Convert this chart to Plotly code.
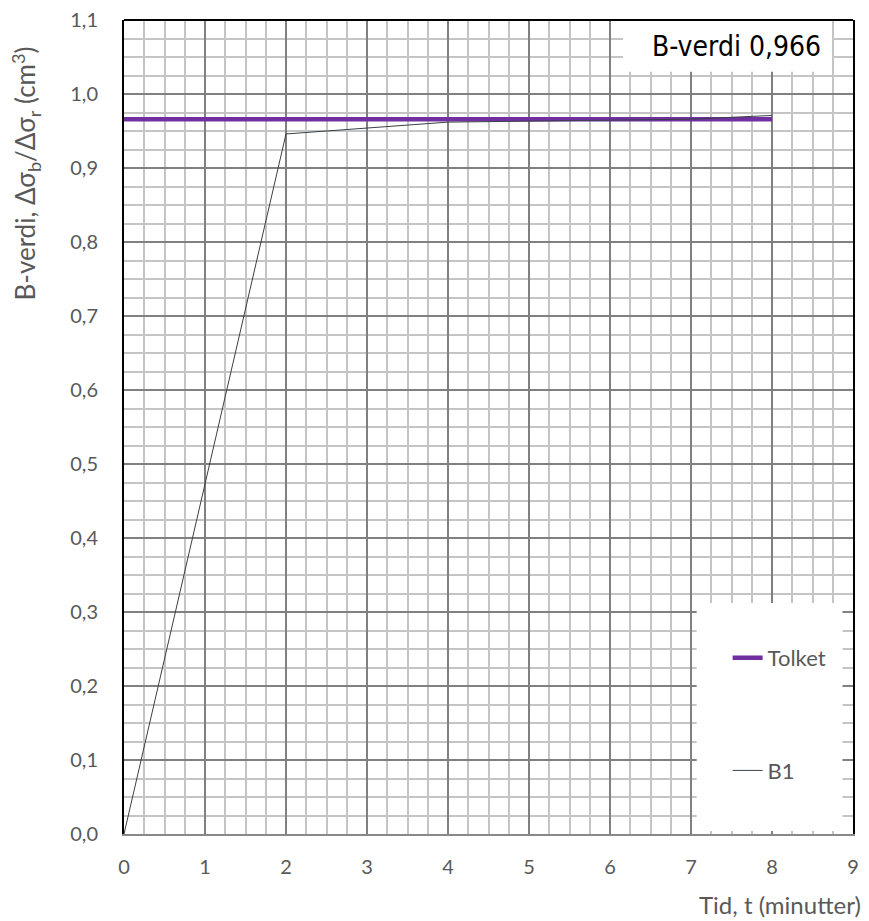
import plotly.graph_objects as go

# Data
tid_b1 = [0, 2, 4, 6, 7, 8]
b1_values = [0.0, 0.946, 0.962, 0.965, 0.966, 0.971]
tid_tolket = [0, 8]
tolket_values = [0.966, 0.966]
b_verdi_text = "B-verdi 0,966"
y_ticks = [0.0, 0.1, 0.2, 0.3, 0.4, 0.5, 0.6, 0.7, 0.8, 0.9, 1.0, 1.1]
y_ticktext = [f"{v:.1f}".replace(".", ",") for v in y_ticks]
x_ticks = list(range(0, 10))

FONT = "Lato, 'Open Sans', sans-serif"
GRAY = "#595959"

fig = go.Figure()
fig.add_trace(go.Scatter(x=tid_tolket, y=tolket_values, mode="lines", name="Tolket",
                         line=dict(color="#7030A0", width=4.5), legendgroup="a"))
fig.add_trace(go.Scatter(x=tid_b1, y=b1_values, mode="lines", name="B1",
                         line=dict(color="#3a4048", width=1), legendgroup="b"))

fig.update_layout(
    width=861, height=913,
    margin=dict(l=116, r=16, t=12, b=87, autoexpand=False),
    paper_bgcolor="white", plot_bgcolor="white",
    font=dict(family=FONT, size=20, color=GRAY),
    showlegend=True,
    legend=dict(x=0.828, xanchor="left", y=0.242, yanchor="top",
                bgcolor="rgba(0,0,0,0)", tracegroupgap=81,
                font=dict(size=22, color=GRAY), itemwidth=30),
    xaxis=dict(range=[0, 9], tickmode="array", tickvals=x_ticks,
               showgrid=True, gridcolor="#808080", gridwidth=1.6,
               minor=dict(dtick=0.25, showgrid=True, gridcolor="#c4c4c4", gridwidth=1.5),
               showline=True, linecolor="#888888", linewidth=2,
               zeroline=False, ticks="", ticklabelstandoff=14,
               ticklabeloverflow="allow", automargin=False,
               tickfont=dict(size=20, color=GRAY)),
    yaxis=dict(range=[0, 1.1], tickmode="array", tickvals=y_ticks, ticktext=y_ticktext,
               showgrid=True, gridcolor="#808080", gridwidth=1.6,
               minor=dict(dtick=0.025, showgrid=True, gridcolor="#c4c4c4", gridwidth=1.5),
               showline=True, linecolor="black", linewidth=2, mirror=True,
               zeroline=False, ticks="", ticklabelstandoff=20,
               ticklabeloverflow="allow", automargin=False,
               tickfont=dict(size=20, color=GRAY)),
    shapes=[
        # legend background
        dict(type="rect", xref="x", yref="y", x0=7.07, x1=8.87, y0=0.004, y1=0.312,
             fillcolor="white", line=dict(width=0), layer="between"),
        # annotation background
        dict(type="rect", xref="x", yref="y", x0=6.16, x1=8.74, y0=1.03, y1=1.1,
             fillcolor="white", line=dict(width=0), layer="between"),
        # top border
        dict(type="line", xref="paper", yref="paper", x0=0, x1=1, y0=1, y1=1,
             line=dict(color="black", width=2)),
    ],
    annotations=[
        dict(text=b_verdi_text, xref="paper", yref="paper", x=0.959, y=0.968,
             xanchor="right", yanchor="middle", showarrow=False,
             font=dict(family="'DejaVu Sans Condensed', 'DejaVu Sans', sans-serif",
                       size=28, color="black")),
        dict(text="Tid, t (minutter)", xref="paper", yref="paper", x=1.014, y=-0.087,
             xanchor="right", yanchor="middle", showarrow=False,
             font=dict(size=24, color=GRAY)),
        dict(text="B-verdi, Δσ<sub>b</sub>/Δσ<sub>r</sub> (cm<sup>3</sup>)",
             xref="paper", yref="paper", x=-0.135, y=(834 - 174) / 814,
             xanchor="center", yanchor="middle", textangle=-90, showarrow=False,
             font=dict(size=26, color=GRAY)),
    ],
)

fig.write_html("out.html")
